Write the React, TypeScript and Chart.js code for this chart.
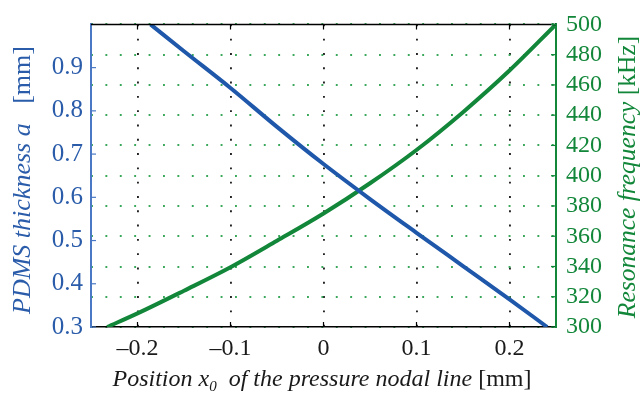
import React, { useEffect, useRef } from "react";
import { Chart, registerables } from "chart.js";

Chart.register(...registerables);

// Blue curve: PDMS thickness a [mm] vs. position x0 [mm]
const THICK_X = [-0.186, -0.15, -0.1, -0.05, 0, 0.05, 0.1, 0.15, 0.2, 0.2405];
const THICK_MM = [1.0, 0.938, 0.853, 0.763, 0.677, 0.596, 0.518, 0.441, 0.364, 0.3];

// Green curve: resonance frequency [kHz] vs. position x0 [mm]
const FREQ_X = [-0.2326, -0.2, -0.15, -0.1, -0.05, 0, 0.05, 0.1, 0.15, 0.2, 0.25];
const FREQ_KHZ = [300, 309, 324, 339.5, 357, 375, 395, 417, 442, 469.5, 500];

const X_TICKS = [-0.2, -0.1, 0, 0.1, 0.2];
const THICK_TICKS = [0.3, 0.4, 0.5, 0.6, 0.7, 0.8, 0.9];
const FREQ_TICKS = [300, 320, 340, 360, 380, 400, 420, 440, 460, 480, 500];

const BLUE_LINE = "#1f58ab";
const BLUE_TEXT = "#2a5caa";
const BLUE_AXIS = "#4a78c4";
const GREEN = "#12873a";
const SERIF = '"Liberation Serif", "Times New Roman", serif';
const TICK_FONT = 24;

type Seg = { t: string; i?: boolean; sub?: boolean };

function drawSegs(ctx: CanvasRenderingContext2D, segs: Seg[], size: number) {
  const fontFor = (s: Seg) =>
    `${s.i ? "italic " : ""}${s.sub ? Math.round(size * 0.62) : size}px ${SERIF}`;
  let total = 0;
  const widths = segs.map((s) => {
    ctx.font = fontFor(s);
    const w = ctx.measureText(s.t).width;
    total += w;
    return w;
  });
  let x = -total / 2;
  segs.forEach((s, k) => {
    ctx.font = fontFor(s);
    ctx.fillText(s.t, x, s.sub ? size * 0.22 : 0);
    x += widths[k];
  });
}

const framePlugin = {
  id: "frame",
  afterDraw(chart: any) {
    const { ctx, chartArea: a, scales } = chart;
    ctx.save();
    ctx.lineCap = "butt";
    // top border
    ctx.strokeStyle = "#000";
    ctx.lineWidth = 1.5;
    ctx.beginPath();
    ctx.moveTo(a.left, a.top);
    ctx.lineTo(a.right, a.top);
    ctx.stroke();
    // inward x ticks (bottom and top)
    ctx.lineWidth = 1.2;
    X_TICKS.forEach((v) => {
      const px = scales.x.getPixelForValue(v);
      ctx.beginPath();
      ctx.moveTo(px, a.bottom);
      ctx.lineTo(px, a.bottom - 5);
      ctx.moveTo(px, a.top);
      ctx.lineTo(px, a.top + 5);
      ctx.stroke();
    });
    // left ticks
    ctx.strokeStyle = BLUE_AXIS;
    THICK_TICKS.forEach((v) => {
      const py = scales.y.getPixelForValue(v);
      ctx.beginPath();
      ctx.moveTo(a.left, py);
      ctx.lineTo(a.left + 5, py);
      ctx.stroke();
    });
    // right ticks
    ctx.strokeStyle = GREEN;
    FREQ_TICKS.forEach((v) => {
      const py = scales.y1.getPixelForValue(v);
      ctx.beginPath();
      ctx.moveTo(a.right, py);
      ctx.lineTo(a.right - 5, py);
      ctx.stroke();
    });

    // axis titles
    ctx.textBaseline = "middle";
    ctx.fillStyle = BLUE_TEXT;
    ctx.save();
    ctx.translate(23, 180);
    ctx.rotate(-Math.PI / 2);
    drawSegs(ctx, [{ t: "PDMS thickness a", i: true }, { t: "   [mm]" }], 26);
    ctx.restore();

    ctx.fillStyle = GREEN;
    ctx.save();
    ctx.translate(628, 177);
    ctx.rotate(-Math.PI / 2);
    drawSegs(ctx, [{ t: "Resonance frequency ", i: true }, { t: "[kHz]" }], 25.5);
    ctx.restore();

    ctx.fillStyle = "#1a1a1a";
    ctx.textBaseline = "alphabetic";
    ctx.save();
    ctx.translate(322, 386);
    drawSegs(
      ctx,
      [
        { t: "Position x", i: true },
        { t: "0", i: true, sub: true },
        { t: "  of the pressure nodal line ", i: true },
        { t: "[mm]" },
      ],
      24
    );
    ctx.restore();
    ctx.restore();
  },
};

export default function App() {
  const ref = useRef<HTMLCanvasElement | null>(null);

  useEffect(() => {
    if (!ref.current) return;
    const chart = new Chart(ref.current, {
      type: "scatter",
      data: {
        datasets: [
          {
            label: "PDMS thickness a [mm]",
            data: THICK_X.map((x, k) => ({ x, y: THICK_MM[k] })),
            yAxisID: "y",
            showLine: true,
            borderColor: BLUE_LINE,
            backgroundColor: BLUE_LINE,
            borderWidth: 4,
            pointRadius: 0,
            cubicInterpolationMode: "monotone",
          },
          {
            label: "Resonance frequency [kHz]",
            data: FREQ_X.map((x, k) => ({ x, y: FREQ_KHZ[k] })),
            yAxisID: "y1",
            showLine: true,
            borderColor: GREEN,
            backgroundColor: GREEN,
            borderWidth: 4,
            pointRadius: 0,
            cubicInterpolationMode: "monotone",
          },
        ],
      },
      options: {
        responsive: false,
        animation: false,
        devicePixelRatio: 1,
        layout: { padding: { top: 21, left: 0, right: 0, bottom: 0 } },
        plugins: { legend: { display: false }, tooltip: { enabled: false } },
        scales: {
          x: {
            type: "linear",
            min: -0.25,
            max: 0.25,
            afterBuildTicks: (s: any) => {
              s.ticks = X_TICKS.map((v) => ({ value: v }));
            },
            afterFit: (s: any) => {
              s.height = 67;
            },
            ticks: {
              color: "#1a1a1a",
              font: { family: SERIF, size: TICK_FONT },
              padding: 7,
              maxRotation: 0,
              autoSkip: false,
              callback: (v: any) => {
                const n = Number(v);
                if (Math.abs(n) < 1e-9) return "0";
                return n < 0 ? "\u2013" + Math.abs(n).toFixed(1) : n.toFixed(1);
              },
            },
            grid: {
              drawTicks: false,
              color: "#222",
              lineWidth: 1.9,
            },
            border: { display: true, color: "#000", width: 1.5, dash: [1.9, 12.4] },
          },
          y: {
            type: "linear",
            position: "left",
            min: 0.3,
            max: 1.0,
            afterBuildTicks: (s: any) => {
              s.ticks = THICK_TICKS.map((v) => ({ value: v }));
            },
            afterFit: (s: any) => {
              s.width = 91;
            },
            ticks: {
              color: BLUE_TEXT,
              font: { family: SERIF, size: TICK_FONT + 1 },
              padding: 8,
              autoSkip: false,
              callback: (v: any) => Number(v).toFixed(1),
            },
            grid: { display: false, drawTicks: false },
            border: { display: true, color: BLUE_AXIS, width: 2 },
          },
          y1: {
            type: "linear",
            position: "right",
            min: 300,
            max: 500,
            afterBuildTicks: (s: any) => {
              s.ticks = FREQ_TICKS.map((v) => ({ value: v }));
            },
            afterFit: (s: any) => {
              s.width = 85;
            },
            ticks: {
              color: GREEN,
              font: { family: SERIF, size: TICK_FONT },
              padding: 10,
              autoSkip: false,
              callback: (v: any) => String(Math.round(Number(v))),
            },
            grid: {
              drawTicks: false,
              color: "#3aa85a",
              lineWidth: 1.9,
            },
            border: { display: true, color: GREEN, width: 2, dash: [1.9, 12.5] },
          },
        },
      },
      plugins: [framePlugin],
    });
    return () => chart.destroy();
  }, []);

  return (
    <div style={{ position: "fixed", left: 0, top: 0, width: 641, height: 394, background: "#fff" }}>
      <canvas ref={ref} width={641} height={394} />
    </div>
  );
}
